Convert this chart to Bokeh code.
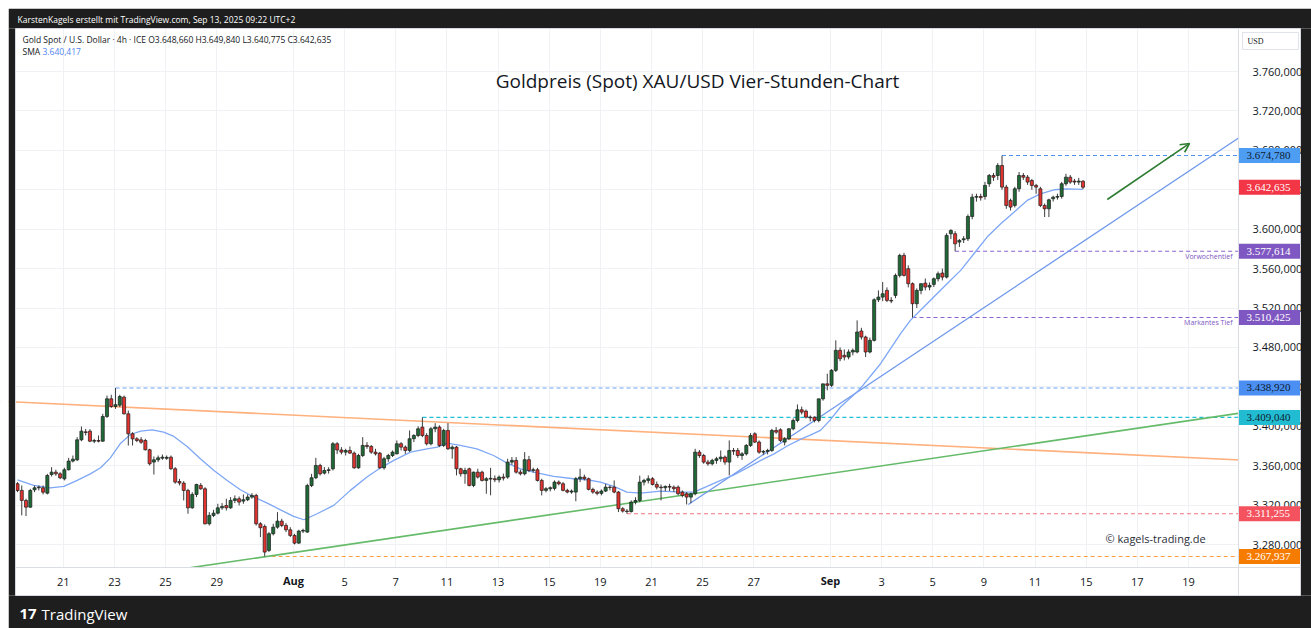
from bokeh.plotting import figure
from bokeh.models import Range1d, FixedTicker, Label, Arrow, OpenHead, ColumnDataSource
from bokeh.embed import file_html
from bokeh.resources import INLINE

# ---------------- data (4h candles, bar index 0 = Jul 17 late session) ----------------
open_ = [
    3341.7, 3335.0, 3324.8, 3318.0, 3335.6, 3337.6, 3337.6, 3332.2, 3351.1, 3353.5,
    3351.8, 3346.7, 3355.9, 3364.7, 3366.0, 3386.3, 3394.4, 3395.1, 3384.9, 3385.6,
    3384.9, 3410.0, 3427.9, 3420.1, 3421.4, 3429.6, 3412.7, 3392.4, 3387.3, 3386.3,
    3385.6, 3376.2, 3363.7, 3366.0, 3367.7, 3367.5, 3368.7, 3356.9, 3344.0, 3342.4,
    3334.9, 3317.3, 3330.9, 3340.0, 3336.6, 3301.1, 3309.6, 3311.9, 3317.3, 3319.7,
    3317.3, 3324.8, 3326.5, 3324.1, 3325.5, 3328.2, 3329.9, 3301.1, 3298.4, 3274.1,
    3291.0, 3297.7, 3303.8, 3299.4, 3295.0, 3289.3, 3281.5, 3293.7, 3292.7, 3339.9,
    3347.8, 3360.3, 3352.5, 3355.2, 3356.9, 3382.3, 3376.0, 3373.8, 3375.5, 3372.8,
    3357.9, 3370.4, 3380.6, 3379.6, 3373.8, 3372.8, 3357.9, 3367.1, 3370.4, 3372.1,
    3382.3, 3378.9, 3375.5, 3387.4, 3390.7, 3399.2, 3390.7, 3382.3, 3397.5, 3399.2,
    3380.6, 3395.8, 3377.2, 3378.9, 3356.9, 3351.9, 3356.9, 3340.0, 3353.5, 3353.5,
    3345.1, 3346.5, 3346.8, 3345.8, 3348.5, 3348.5, 3363.7, 3365.4, 3353.5, 3351.9,
    3366.1, 3355.2, 3355.9, 3345.1, 3335.0, 3336.7, 3337.0, 3343.4, 3341.7, 3335.0,
    3333.3, 3333.3, 3346.8, 3348.5, 3346.8, 3336.0, 3333.3, 3332.0, 3334.3, 3338.3,
    3338.3, 3333.3, 3316.4, 3314.0, 3313.5, 3323.1, 3324.8, 3343.4, 3345.1, 3346.8,
    3341.0, 3338.3, 3337.7, 3339.0, 3338.3, 3338.3, 3333.3, 3331.6, 3328.2, 3331.6,
    3373.8, 3370.4, 3363.7, 3362.0, 3365.4, 3367.1, 3368.8, 3363.7, 3375.5, 3375.5,
    3370.4, 3372.1, 3380.6, 3392.4, 3384.0, 3373.8, 3374.5, 3375.5, 3395.8, 3396.5,
    3384.0, 3387.4, 3397.5, 3405.9, 3416.8, 3415.4, 3409.3, 3409.3, 3405.9, 3427.9,
    3443.1, 3441.6, 3456.8, 3477.1, 3472.0, 3470.3, 3475.4, 3475.4, 3496.7, 3490.6,
    3475.4, 3487.2, 3528.4, 3531.1, 3537.9, 3527.8, 3532.8, 3553.1, 3573.4, 3559.9,
    3544.7, 3524.4, 3537.9, 3545.3, 3541.3, 3544.0, 3549.7, 3555.5, 3551.4, 3595.4,
    3595.4, 3586.9, 3589.3, 3590.3, 3612.9, 3632.5, 3633.2, 3633.2, 3646.1, 3654.5,
    3654.5, 3664.6, 3642.7, 3629.2, 3624.1, 3641.0, 3654.5, 3652.8, 3649.4, 3644.4,
    3641.0, 3624.1, 3620.7, 3630.9, 3632.5, 3633.2, 3646.1, 3652.8, 3648.8, 3647.8, 3648.66,
]
high_ = [
    3343.4, 3340.0, 3326.5, 3336.6, 3340.0, 3340.0, 3340.0, 3351.8, 3358.6, 3356.0,
    3353.5, 3358.0, 3368.0, 3370.4, 3389.0, 3399.8, 3397.4, 3397.1, 3387.3, 3390.7,
    3412.7, 3431.2, 3432.0, 3438.92, 3432.0, 3431.2, 3416.0, 3394.1, 3389.0, 3389.0,
    3387.3, 3377.2, 3369.4, 3370.4, 3371.4, 3370.4, 3370.4, 3358.6, 3346.7, 3344.4,
    3336.6, 3333.2, 3341.7, 3342.4, 3338.3, 3312.9, 3315.3, 3321.4, 3322.1, 3326.5,
    3328.2, 3329.9, 3328.8, 3330.9, 3330.9, 3332.2, 3331.5, 3302.8, 3300.4, 3292.7,
    3301.1, 3312.9, 3306.2, 3301.8, 3297.7, 3291.0, 3295.0, 3296.1, 3341.7, 3351.8,
    3368.0, 3362.0, 3358.6, 3358.5, 3384.0, 3384.0, 3378.9, 3377.2, 3379.6, 3374.5,
    3372.1, 3389.0, 3384.0, 3381.0, 3377.2, 3374.0, 3369.0, 3372.1, 3375.5, 3385.7,
    3384.0, 3380.6, 3395.8, 3392.0, 3400.0, 3409.04, 3393.0, 3399.2, 3403.2, 3401.0,
    3397.5, 3403.2, 3380.6, 3380.0, 3358.0, 3357.9, 3358.0, 3354.0, 3356.9, 3355.0,
    3348.5, 3357.9, 3350.2, 3350.2, 3352.0, 3367.1, 3368.8, 3368.8, 3356.0, 3373.8,
    3370.0, 3358.0, 3357.9, 3346.8, 3338.3, 3339.0, 3345.1, 3345.1, 3343.4, 3336.7,
    3336.0, 3348.5, 3357.0, 3351.0, 3348.0, 3337.7, 3335.0, 3336.0, 3341.7, 3340.0,
    3345.1, 3334.3, 3318.0, 3316.0, 3324.8, 3328.0, 3350.0, 3346.8, 3350.2, 3348.5,
    3344.0, 3341.0, 3340.0, 3341.7, 3340.0, 3340.0, 3335.0, 3333.3, 3332.5, 3377.2,
    3376.0, 3372.1, 3366.0, 3367.1, 3369.0, 3375.5, 3370.4, 3385.7, 3378.0, 3378.0,
    3373.8, 3382.0, 3393.1, 3394.0, 3385.7, 3376.0, 3377.2, 3397.5, 3399.2, 3398.0,
    3389.0, 3398.0, 3408.0, 3422.2, 3420.0, 3417.0, 3411.0, 3410.0, 3428.0, 3443.1,
    3453.4, 3458.0, 3487.2, 3480.0, 3478.0, 3478.0, 3479.0, 3507.5, 3500.0, 3492.0,
    3490.0, 3530.0, 3537.9, 3546.4, 3541.0, 3531.0, 3555.0, 3575.1, 3576.0, 3563.3,
    3546.0, 3540.0, 3545.0, 3550.0, 3546.0, 3551.0, 3557.0, 3560.0, 3596.0, 3600.0,
    3598.0, 3590.0, 3593.0, 3615.0, 3635.9, 3636.0, 3636.0, 3648.0, 3656.0, 3657.0,
    3667.0, 3674.78, 3645.0, 3631.0, 3643.0, 3658.0, 3657.0, 3655.0, 3651.0, 3646.0,
    3643.0, 3626.0, 3631.0, 3634.0, 3636.0, 3648.0, 3656.2, 3655.0, 3651.0, 3652.1, 3649.84,
]
low_ = [
    3333.2, 3309.6, 3308.9, 3317.3, 3333.2, 3334.9, 3330.9, 3330.9, 3349.1, 3349.8,
    3346.4, 3345.1, 3355.2, 3363.3, 3364.7, 3384.9, 3390.7, 3383.9, 3382.9, 3383.6,
    3384.3, 3408.6, 3418.7, 3417.7, 3419.4, 3412.0, 3380.5, 3380.5, 3383.9, 3382.2,
    3375.5, 3360.3, 3351.1, 3363.7, 3366.0, 3366.0, 3355.9, 3341.7, 3340.0, 3324.8,
    3311.3, 3316.3, 3328.2, 3335.6, 3300.4, 3299.4, 3307.9, 3310.6, 3315.3, 3314.6,
    3316.3, 3322.1, 3319.7, 3321.4, 3324.1, 3326.5, 3299.4, 3287.6, 3267.937, 3272.4,
    3289.3, 3296.1, 3297.7, 3292.7, 3287.6, 3280.2, 3280.8, 3291.7, 3292.0, 3338.3,
    3346.4, 3350.1, 3351.1, 3352.0, 3355.2, 3372.0, 3371.5, 3370.4, 3372.1, 3356.9,
    3356.9, 3368.8, 3377.2, 3372.1, 3370.4, 3356.9, 3356.0, 3364.0, 3368.8, 3371.5,
    3375.5, 3372.1, 3374.0, 3384.0, 3389.0, 3389.0, 3380.6, 3380.6, 3394.0, 3378.9,
    3379.0, 3376.0, 3367.1, 3350.2, 3349.0, 3341.7, 3339.0, 3338.3, 3347.0, 3344.0,
    3331.6, 3330.0, 3343.4, 3343.0, 3345.0, 3346.8, 3361.0, 3352.0, 3350.2, 3350.2,
    3353.5, 3353.0, 3344.0, 3329.9, 3333.0, 3334.0, 3335.0, 3340.0, 3334.0, 3332.0,
    3331.6, 3324.0, 3343.4, 3345.1, 3335.0, 3331.6, 3330.0, 3330.0, 3333.3, 3335.0,
    3332.0, 3313.0, 3312.5, 3311.255, 3312.5, 3320.8, 3323.0, 3340.0, 3342.0, 3340.0,
    3336.0, 3324.8, 3334.0, 3334.3, 3333.3, 3330.0, 3328.0, 3320.7, 3322.0, 3330.0,
    3368.0, 3362.0, 3360.0, 3360.3, 3362.0, 3364.0, 3361.0, 3350.2, 3371.0, 3368.0,
    3366.0, 3370.4, 3379.0, 3383.0, 3372.1, 3371.0, 3371.5, 3374.0, 3392.4, 3384.0,
    3380.6, 3386.0, 3396.0, 3404.0, 3412.0, 3408.0, 3405.0, 3404.0, 3404.0, 3426.0,
    3436.5, 3440.0, 3455.1, 3466.0, 3466.9, 3468.0, 3472.0, 3474.0, 3488.0, 3470.3,
    3474.0, 3486.0, 3526.0, 3527.0, 3526.0, 3525.0, 3530.0, 3551.0, 3552.0, 3541.0,
    3510.425, 3520.0, 3534.0, 3538.0, 3538.0, 3541.3, 3547.0, 3548.0, 3550.0, 3590.0,
    3577.614, 3582.0, 3586.0, 3588.0, 3610.0, 3628.0, 3629.0, 3630.0, 3643.0, 3649.0,
    3650.0, 3640.0, 3620.7, 3619.0, 3622.0, 3638.0, 3650.0, 3645.0, 3640.0, 3635.9,
    3622.4, 3612.3, 3612.3, 3628.0, 3630.0, 3631.0, 3644.0, 3646.0, 3645.0, 3645.0, 3640.775,
]
close_ = [
    3334.9, 3324.8, 3318.0, 3334.9, 3337.6, 3338.3, 3333.2, 3350.1, 3353.5, 3351.8,
    3347.8, 3355.9, 3364.7, 3366.7, 3386.3, 3395.1, 3393.7, 3384.9, 3385.6, 3384.9,
    3410.0, 3427.9, 3420.1, 3422.0, 3430.2, 3412.7, 3392.4, 3387.3, 3385.6, 3383.9,
    3376.2, 3362.0, 3366.0, 3368.0, 3368.7, 3368.5, 3356.9, 3343.4, 3342.4, 3334.9,
    3317.3, 3330.9, 3341.0, 3336.6, 3301.1, 3309.6, 3311.9, 3317.3, 3318.7, 3317.3,
    3324.8, 3326.5, 3323.1, 3325.5, 3328.2, 3329.9, 3301.1, 3297.1, 3272.4, 3291.0,
    3297.7, 3303.8, 3299.4, 3295.0, 3289.3, 3281.5, 3293.7, 3294.4, 3339.9, 3347.8,
    3360.3, 3351.8, 3355.2, 3355.9, 3382.3, 3376.0, 3373.8, 3375.5, 3372.8, 3357.9,
    3370.4, 3380.6, 3379.6, 3373.8, 3372.1, 3357.9, 3367.1, 3370.4, 3373.8, 3382.3,
    3378.9, 3375.5, 3387.4, 3390.7, 3397.5, 3390.7, 3382.3, 3397.5, 3399.2, 3380.6,
    3395.8, 3377.2, 3378.9, 3356.9, 3351.9, 3355.2, 3340.0, 3353.5, 3348.5, 3345.1,
    3346.8, 3347.2, 3345.8, 3348.5, 3347.5, 3363.7, 3365.4, 3353.5, 3351.9, 3366.1,
    3355.2, 3356.0, 3345.1, 3335.0, 3336.7, 3337.7, 3343.4, 3341.7, 3335.0, 3333.3,
    3334.3, 3346.8, 3348.5, 3346.8, 3336.0, 3333.3, 3332.0, 3334.3, 3338.3, 3338.0,
    3333.3, 3316.4, 3314.0, 3313.5, 3323.1, 3324.8, 3343.4, 3345.1, 3346.8, 3341.0,
    3338.3, 3337.7, 3339.0, 3338.3, 3336.7, 3331.6, 3329.9, 3328.2, 3331.6, 3373.8,
    3370.4, 3363.7, 3362.0, 3365.4, 3367.1, 3368.8, 3363.7, 3375.5, 3374.8, 3370.4,
    3372.1, 3380.6, 3390.7, 3384.0, 3373.8, 3374.5, 3375.5, 3395.8, 3394.1, 3385.7,
    3387.4, 3397.5, 3405.9, 3416.8, 3414.4, 3409.3, 3408.6, 3405.9, 3427.9, 3443.1,
    3441.6, 3456.8, 3477.1, 3468.6, 3470.3, 3475.4, 3477.1, 3495.7, 3490.6, 3475.4,
    3487.2, 3528.4, 3531.1, 3534.5, 3527.8, 3527.1, 3553.1, 3573.4, 3553.1, 3544.7,
    3524.4, 3537.9, 3544.7, 3541.3, 3543.0, 3549.7, 3554.8, 3551.4, 3593.7, 3598.7,
    3585.2, 3588.6, 3590.3, 3612.9, 3632.5, 3633.2, 3632.0, 3644.4, 3654.5, 3652.8,
    3664.6, 3642.7, 3624.1, 3622.4, 3641.0, 3654.5, 3652.8, 3647.8, 3644.4, 3642.7,
    3624.1, 3620.7, 3629.8, 3632.5, 3633.2, 3646.1, 3652.8, 3647.8, 3647.8, 3648.8, 3642.635,
]

# SMA line (bar position, value)
sma_x = [0, 3.8, 7.7, 10.9, 14.0, 17.1, 19.5, 21.8, 24.2, 26.5,
         28.9, 31.6, 34.3, 36.7, 39.8, 42.9, 46.1, 49.2, 52.3, 55.5,
         58.6, 61.7, 64.8, 67.2, 70.3, 74.2, 78.1, 82.0, 85.2, 88.3,
         92.2, 96.1, 98.5, 100.8, 103.9, 107.8, 111.7, 114.9, 118.0, 121.1,
         125.8, 130.5, 133.6, 136.8, 139.9, 143.0, 146.2, 150.9, 155.6, 158.7,
         161.8, 165.0, 168.1, 171.2, 174.4, 177.5, 180.6, 183.8, 186.0, 188.4,
         190.6, 193.1, 197.4, 202.5, 207.2, 209.5, 213.4, 218.1, 221.3, 224.4,
         227.5, 230.7, 233.8, 236.9, 240.0, 243.2, 246.3, 250.0]
sma_y = [3345.7, 3340.0, 3337.6, 3339.0, 3345.1, 3351.8, 3357.9, 3368.0, 3382.9, 3391.7,
         3395.1, 3396.4, 3394.1, 3389.7, 3379.5, 3367.0, 3355.2, 3345.1, 3335.6, 3328.2,
         3322.1, 3315.3, 3308.6, 3305.2, 3311.3, 3319.8, 3335.0, 3348.5, 3357.9, 3365.4,
         3373.8, 3377.2, 3378.9, 3382.9, 3380.6, 3377.2, 3370.4, 3362.7, 3356.9, 3353.5,
         3349.2, 3346.8, 3345.8, 3343.4, 3339.0, 3333.3, 3332.3, 3334.3, 3333.3, 3333.3,
         3339.0, 3345.1, 3350.8, 3357.9, 3365.4, 3372.0, 3380.0, 3387.0, 3391.0, 3395.9,
         3406.0, 3419.6, 3436.5, 3463.5, 3494.0, 3507.5, 3524.4, 3544.7, 3558.2, 3575.1,
         3592.0, 3605.5, 3617.3, 3629.2, 3635.9, 3640.0, 3641.0, 3640.4]
sma_last = 3640.417

# drawn trend lines (bar position, price)
orange_x = [-4.0, 300.0]
orange_y = [3425.4, 3363.1]
green_x = [30.0, 300.0]
green_y = [3249.8, 3421.8]
blue_x = [157.4, 300.0]
blue_y = [3320.7, 3731.4]
arrow_x = [255.7, 275.0]
arrow_y = [3630.1, 3687.0]

# horizontal levels
level_vals = [3674.780, 3577.614, 3510.425, 3438.920, 3409.040, 3311.255, 3267.937]
level_start = [231, 220, 210, 23, 95, 143, 58]
level_line_colors = ["#4f94f2", "#8a63cf", "#8a63cf", "#6aa5f5", "#1fbfd6", "#f2737e", "#ff9f45"]
level_box_colors = ["#4d9df3", "#7e57c2", "#7e57c2", "#4b8ff2", "#22bcd2", "#f4525e", "#f57c00"]
level_text_colors = ["#0f1c2e", "#ffffff", "#ffffff", "#0f1c2e", "#0f1c2e", "#ffffff", "#ffffff"]
level_notes = {3577.614: "Vorwochentief", 3510.425: "Markantes Tief"}
last_price = 3642.635

# time axis (trading-day index from Jul 21, six 4h bars per day)
tick_days = [0, 2, 4, 6, 9, 11, 13, 15, 17, 19, 21, 23, 25, 27, 30, 32, 34, 36, 38, 40, 42, 44]
tick_labels = ["21", "23", "25", "29", "Aug", "5", "7", "11", "13", "15", "19", "21",
               "25", "27", "Sep", "3", "5", "9", "11", "15", "17", "19"]
price_ticks = [3280, 3320, 3360, 3400, 3440, 3480, 3520, 3560, 3600, 3640, 3680, 3720, 3760]

# ---------------- layout helpers (pixel <-> data) ----------------
W, H = 1311, 628
X0, SX = 17.0, 4.262          # pixel of bar 0, pixels per bar
Y0, SY, P0 = 71.0, 0.9856, 3760.0


def bx(px):
    return (px - X0) / SX


def py(pix):
    return P0 - (pix - Y0) / SY


def de_fmt(v):
    s = f"{v:,.3f}"
    return s.replace(",", "X").replace(".", ",").replace("X", ".")


FONT = "Open Sans"
DARK = "#1e1e1e"
TXT = "#131722"

p = figure(width=W, height=H, x_range=Range1d(bx(0), bx(W)), y_range=Range1d(py(H), py(0)),
           y_axis_location="right", toolbar_location=None, output_backend="svg", title=None,
           min_border=0, min_border_left=0, min_border_right=0, min_border_top=0, min_border_bottom=0,
           background_fill_color="white", border_fill_color="white", outline_line_color=None)

# axes drawn inside the frame (TradingView-like price and time scales)
x_ticks = [10.75 + 6 * d for d in tick_days]
xa = p.xaxis[0]
xa.ticker = FixedTicker(ticks=x_ticks)
xa.major_label_overrides = {t: ("" if lab in ("Aug", "Sep") else lab) for t, lab in zip(x_ticks, tick_labels)}
xa.fixed_location = py(567)
xa.bounds = (bx(15), bx(1300))
ya = p.yaxis[0]
ya.ticker = FixedTicker(ticks=price_ticks)
ya.major_label_overrides = {t: de_fmt(t) for t in price_ticks}
ya.fixed_location = bx(1238)
ya.bounds = (py(595), py(28))
for ax in (xa, ya):
    ax.major_tick_line_color = None
    ax.minor_tick_line_color = None
    ax.axis_line_color = "#dadde4"
    ax.major_label_text_font = FONT
    ax.major_label_text_font_size = "11px"
    ax.major_label_text_color = TXT
ya.major_label_standoff = 8
xa.major_label_standoff = 4

p.xgrid.grid_line_color = "#eff1f5"
p.ygrid.grid_line_color = "#eff1f5"

# horizontal levels (one dashed segment per level)
for v, s, col in zip(level_vals, level_start, level_line_colors):
    p.segment(x0=[s], y0=[v], x1=[bx(1240)], y1=[v], line_color=col, line_width=1.1, line_dash="4 3")

# trend lines and SMA
p.line(orange_x, orange_y, line_color="#ffb07c", line_width=1.6)
p.line(green_x, green_y, line_color="#66bb6a", line_width=1.6)
p.line(blue_x, blue_y, line_color="#6f98ec", line_width=1.3)
p.line(sma_x, sma_y, line_color="#7ea7f6", line_width=1.3)

# candles
src = ColumnDataSource(dict(
    x=list(range(len(close_))),
    o=open_, h=high_, l=low_, c=close_,
    top=[max(a, b) for a, b in zip(open_, close_)],
    bottom=[min(a, b) for a, b in zip(open_, close_)],
    fill=["#1f6a36" if c >= o else "#e2332f" for o, c in zip(open_, close_)],
))
p.segment(x0="x", y0="l", x1="x", y1="h", source=src, line_color="#3c3c3c", line_width=1)
p.vbar(x="x", width=0.72, top="top", bottom="bottom", fill_color="fill", line_color="#1b1b1b",
       line_width=0.7, source=src)

# scale areas (white), dark screenshot frame, white page margin
p.quad(left=[bx(1238), bx(15)], right=[bx(1300), bx(1300)], bottom=[py(595), py(595)],
       top=[py(28), py(567)], fill_color="white", line_color=None)
p.quad(left=[bx(8), bx(8), bx(8), bx(1300)], right=[bx(W + 5), bx(W + 5), bx(15), bx(W + 5)],
       bottom=[py(28), py(H + 5), py(595), py(595)], top=[py(8), py(595), py(28), py(28)],
       fill_color=DARK, line_color=None)
p.quad(left=[bx(-5), bx(-5)], right=[bx(8), bx(W + 5)], bottom=[py(H + 5), py(8)],
       top=[py(-5), py(-5)], fill_color="white", line_color=None)
p.quad(left=[bx(15)], right=[bx(1300)], bottom=[py(595)], top=[py(28)], fill_color=None,
       line_color="#d6d9e0", line_width=1)

p.add_layout(Arrow(end=OpenHead(size=9, line_color="#2e7d32", line_width=1.6),
                   x_start=arrow_x[0], y_start=arrow_y[0], x_end=arrow_x[1], y_end=arrow_y[1],
                   line_color="#2e7d32", line_width=1.6))

# price boxes on the price scale (drawn above the axis labels)
box_vals = level_vals + [last_price]
box_src = ColumnDataSource(dict(
    y=box_vals, txt=[de_fmt(v) for v in box_vals],
    fill=level_box_colors + ["#f23645"], tc=level_text_colors + ["#ffffff"],
))
p.rect(x=bx(1269), y="y", width=61, height=15, width_units="screen", height_units="screen",
       fill_color="fill", line_color=None, source=box_src, level="overlay")
p.text(x=bx(1246), y="y", text="txt", text_color="tc", text_align="left", text_baseline="middle",
       text_font=FONT, text_font_size="11px", source=box_src, level="overlay")

for v, note in level_notes.items():
    p.add_layout(Label(x=bx(1232), y=v - 5.1, text=note, text_align="right", text_baseline="middle",
                       text_font=FONT, text_font_size="7px", text_color="#7e57c2"))

# month labels (bold) on the time scale
for t, lab in zip(x_ticks, tick_labels):
    if lab in ("Aug", "Sep"):
        p.add_layout(Label(x=t, y=py(580), text=lab, text_align="center", text_baseline="middle",
                           text_font=FONT, text_font_size="11px", text_font_style="bold", text_color=TXT))

# USD box
usd_src = ColumnDataSource(dict(x=[bx(1270)], y=[py(40.5)], tx=[bx(1247)], t=["USD"]))
p.rect(x="x", y="y", width=56, height=17, width_units="screen", height_units="screen",
       fill_color="white", line_color="#e0e3eb", source=usd_src, level="overlay")
p.text(x="tx", y="y", text="t", text_align="left", text_baseline="middle", text_font=FONT,
       text_font_size="8px", text_color=TXT, source=usd_src, level="overlay")

# texts
p.add_layout(Label(x=bx(697), y=py(80), text="Goldpreis (Spot) XAU/USD Vier-Stunden-Chart", text_align="center",
                   text_baseline="middle", text_font=FONT, text_font_size="19px", text_color=TXT))
p.add_layout(Label(x=bx(1105), y=py(538), text="© kagels-trading.de", text_align="left", text_baseline="middle",
                   text_font=FONT, text_font_size="11px", text_color="#2a2e39"))
legend1 = ("Gold Spot / U.S. Dollar · 4h · ICE   O" + de_fmt(open_[-1]) + "  H" + de_fmt(high_[-1]) +
           "  L" + de_fmt(low_[-1]) + "  C" + de_fmt(close_[-1]))
p.add_layout(Label(x=bx(22), y=py(38.5), text=legend1, text_align="left", text_baseline="middle",
                   text_font=FONT, text_font_size="8.5px", text_color=TXT))
p.add_layout(Label(x=bx(22), y=py(51), text="SMA", text_align="left", text_baseline="middle",
                   text_font=FONT, text_font_size="8.5px", text_color=TXT))
p.add_layout(Label(x=bx(42), y=py(51), text=de_fmt(sma_last), text_align="left", text_baseline="middle",
                   text_font=FONT, text_font_size="8.5px", text_color="#4f84f0"))
p.add_layout(Label(x=bx(17), y=py(18.5), text="KarstenKagels erstellt mit TradingView.com, Sep 13, 2025 09:22 UTC+2",
                   text_align="left", text_baseline="middle", text_font=FONT, text_font_size="8.5px",
                   text_color="#ffffff"))
p.add_layout(Label(x=bx(19), y=py(613), text="17", text_align="left", text_baseline="middle",
                   text_font=FONT, text_font_size="15px", text_font_style="bold", text_color="#ffffff"))
p.add_layout(Label(x=bx(41), y=py(613), text="TradingView", text_align="left", text_baseline="middle",
                   text_font=FONT, text_font_size="15px", text_color="#ffffff"))

open("out.html", "w").write(file_html(p, INLINE))
